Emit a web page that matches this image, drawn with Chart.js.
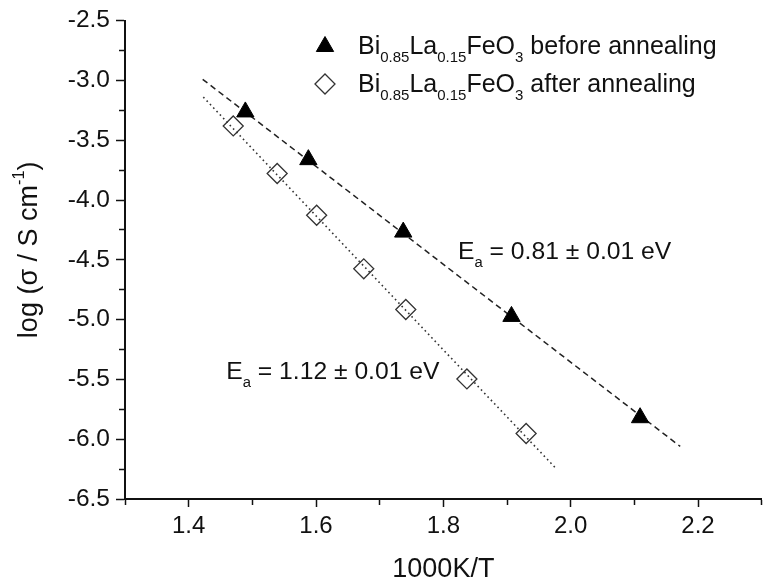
<!DOCTYPE html>
<html>
<head>
<meta charset="utf-8">
<script src="https://cdn.jsdelivr.net/npm/chart.js@4.4.1/dist/chart.umd.min.js"></script>
<style>
    html, body { margin: 0; padding: 0; background: #fff; overflow: hidden; }
    #wrap { width: 773px; height: 586px; }  /* x axis runs on past the window edge, as in the original */
</style>
</head>
<body>
<div id="wrap"><canvas id="arrhenius"></canvas></div>
<script>
// Arrhenius plot of Bi0.85La0.15FeO3 conductivity, drawn with chart.js

// measured points (1000K/T, log sigma)
const beforeX = [1.489, 1.588, 1.737, 1.907, 2.109];
const beforeY = [-3.263, -3.662, -4.268, -4.973, -5.820];
const afterX  = [1.470, 1.539, 1.601, 1.675, 1.741, 1.837, 1.930];
const afterY  = [-3.380, -3.778, -4.127, -4.575, -4.915, -5.496, -5.952];

// linear fits, end points
const fitBeforeX = [1.422, 2.172];
const fitBeforeY = [-2.990, -6.060];
const fitAfterX  = [1.423, 1.975];
const fitAfterY  = [-3.139, -6.234];

// labelled ticks
const xTicks = [1.4, 1.6, 1.8, 2.0, 2.2];
const yTicks = [-2.5, -3.0, -3.5, -4.0, -4.5, -5.0, -5.5, -6.0, -6.5];

// texts with sub / superscripts: [text, '' | 'sub' | 'sup']
const seriesNames = [
    [['Bi', ''], ['0.85', 'sub'], ['La', ''], ['0.15', 'sub'], ['FeO', ''], ['3', 'sub'], [' before annealing', '']],
    [['Bi', ''], ['0.85', 'sub'], ['La', ''], ['0.15', 'sub'], ['FeO', ''], ['3', 'sub'], [' after annealing', '']]
];
const energyLabels = [
    [['E', ''], ['a', 'sub'], [' = 0.81 \u00b1 0.01 eV', '']],
    [['E', ''], ['a', 'sub'], [' = 1.12 \u00b1 0.01 eV', '']]
];
const yTitle = [['log (\u03c3 / S cm', ''], ['-1', 'sup'], [')', '']];
const xTitle = '1000K/T';

const FONT = "'Liberation Sans', Arial, Helvetica, sans-serif";
const INK = '#111';

function toPoints(xs, ys) {
    return xs.map((x, i) => ({x: x, y: ys[i]}));
}

function isLabelled(list, v) {
    return list.some(t => Math.abs(t - v) < 1e-6);
}

// width of a piece of rich text
function richWidth(ctx, parts, size) {
    let w = 0;
    parts.forEach(([t, m]) => {
        ctx.font = (m ? size * 0.6 : size) + 'px ' + FONT;
        w += ctx.measureText(t).width;
    });
    return w;
}

// draw rich text, baseline at y
function drawRich(ctx, parts, x, y, size) {
    parts.forEach(([t, m]) => {
        const s = m ? size * 0.6 : size;
        const dy = m === 'sub' ? size * 0.33 : (m === 'sup' ? -size * 0.4 : 0);
        ctx.font = s + 'px ' + FONT;
        ctx.fillText(t, x, y + dy);
        x += ctx.measureText(t).width;
    });
    return x;
}

// legend, fit energies and y title (they need subscripts)
const richText = {
    id: 'richText',
    afterDraw(chart) {
        const ctx = chart.ctx;
        const xs = chart.scales.x;
        const ys = chart.scales.y;
        ctx.save();
        ctx.textAlign = 'left';
        ctx.textBaseline = 'alphabetic';

        // legend
        seriesNames.forEach((row, i) => {
            const ds = chart.data.datasets[i];
            const cy = i === 0 ? 46.5 : 84;
            ctx.fillStyle = ds.pointBackgroundColor;
            ctx.strokeStyle = ds.pointBorderColor;
            ctx.lineWidth = ds.pointBorderWidth;
            Chart.helpers.drawPoint(ctx, {
                pointStyle: ds.pointStyle,
                radius: ds.pointRadius,
                borderWidth: ds.pointBorderWidth,
                rotation: 0
            }, 325, cy);
            ctx.fillStyle = INK;
            drawRich(ctx, row, 358, i === 0 ? 54 : 92, 25);
        });

        // activation energies, placed in data units
        const energyAt = [[1.823, -4.492], [1.459, -5.496]];
        energyLabels.forEach((row, i) => {
            ctx.fillStyle = INK;
            drawRich(ctx, row, xs.getPixelForValue(energyAt[i][0]), ys.getPixelForValue(energyAt[i][1]), 24.7);
        });

        // y axis title
        ctx.translate(30, (ys.top + ys.bottom) / 2 - 10);
        ctx.rotate(-Math.PI / 2);
        ctx.textBaseline = 'middle';
        const w = richWidth(ctx, yTitle, 27);
        drawRich(ctx, yTitle, -w / 2, 0, 27);
        ctx.restore();
    }
};

const ctx = document.getElementById('arrhenius');
const myChart = new Chart(ctx, {
    type: 'scatter',
    data: {
        datasets: [
            {
                label: 'before annealing',
                data: toPoints(beforeX, beforeY),
                pointStyle: 'triangle',
                pointRadius: 10,
                pointBackgroundColor: '#000',
                pointBorderColor: '#000',
                pointBorderWidth: 1
            },
            {
                label: 'after annealing',
                data: toPoints(afterX, afterY),
                pointStyle: 'rectRot',
                pointRadius: 10,
                pointBackgroundColor: 'rgba(0,0,0,0)',
                pointBorderColor: '#333',
                pointBorderWidth: 1.3
            },
            {
                label: 'fit before',
                data: toPoints(fitBeforeX, fitBeforeY),
                showLine: true,
                pointRadius: 0,
                borderColor: '#222',
                borderWidth: 1.5,
                borderDash: [6, 4]
            },
            {
                label: 'fit after',
                data: toPoints(fitAfterX, fitAfterY),
                showLine: true,
                pointRadius: 0,
                borderColor: '#333',
                borderWidth: 1.6,
                borderDash: [1.6, 3.2]
            }
        ]
    },
    options: {
        responsive: true,
        maintainAspectRatio: false,
        animation: false,
        events: [],
        layout: { padding: { top: 17, left: 0, right: 0, bottom: 0 } },
        scales: {
            x: {
                type: 'linear',
                min: 1.3,
                max: 2.3,
                afterFit: s => { s.height = 87; },
                ticks: {
                    stepSize: 0.1,
                    autoSkip: false,
                    maxRotation: 0,
                    padding: 5,
                    color: INK,
                    font: { family: FONT, size: 24 },
                    callback: v => isLabelled(xTicks, v) ? v.toFixed(1) : ''
                },
                grid: {
                    drawOnChartArea: false,
                    tickLength: 8,
                    tickWidth: 1.5,
                    tickColor: INK,
                    tickBorderDash: c => isLabelled(xTicks, c.tick.value) ? [] : [5, 20]
                },
                border: { display: true, color: INK, width: 2 },
                title: {
                    display: true,
                    text: xTitle,
                    color: INK,
                    font: { family: FONT, size: 27 },
                    padding: { top: 0, bottom: 0 }
                }
            },
            y: {
                type: 'linear',
                min: -6.5,
                max: -2.5,
                afterFit: s => { s.width = 125; },
                ticks: {
                    stepSize: 0.25,
                    autoSkip: false,
                    padding: 6,
                    color: INK,
                    font: { family: FONT, size: 24.5 },
                    callback: v => isLabelled(yTicks, v) ? v.toFixed(1) : ''
                },
                grid: {
                    drawOnChartArea: false,
                    tickLength: 9,
                    tickWidth: 1.5,
                    tickColor: INK,
                    tickBorderDash: c => isLabelled(yTicks, c.tick.value) ? [] : [0, 3, 20, 0]
                },
                border: { display: true, color: INK, width: 2 }
            }
        },
        plugins: {
            legend: { display: false },
            tooltip: { enabled: false }
        }
    },
    plugins: [richText]
});
</script>
</body>
</html>
